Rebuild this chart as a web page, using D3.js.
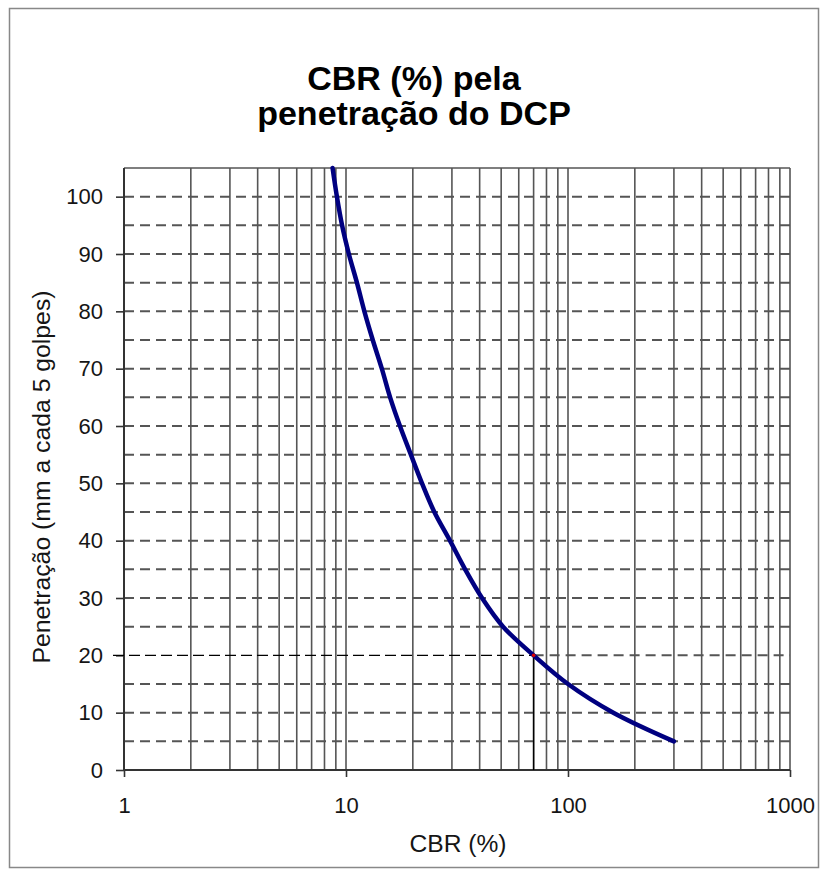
<!DOCTYPE html>
<html><head><meta charset="utf-8">
<script src="https://cdn.jsdelivr.net/npm/d3@7"></script>
<style>body{margin:0;background:#fff}svg{display:block}</style>
</head><body>
<svg id="c" width="821" height="871"></svg>
<script>
const titleLines = ["CBR (%) pela", "penetração do DCP"];
const xTitle = "CBR (%)";
const yTitle = "Penetração (mm a cada 5 golpes)";
const penetration = [105,100,95,90,85,80,75,70,65,60,55,50,45,40,35,30,25,20,15,10,5];
const cbr = [8.7,9.1,9.6,10.3,11.2,12.1,13.2,14.5,15.8,17.5,19.6,22.0,25.0,29.4,34.4,41,51,70,100,160,300];
const xTicks = [1,10,100,1000];
const yTicks = [0,10,20,30,40,50,60,70,80,90,100];
const yGrid = [5,10,15,20,25,30,35,40,45,50,55,60,65,70,75,80,85,90,95,100];
const refCbr = 70, refPen = 20;

const FONT = "Liberation Sans, Arial, sans-serif";
const svg = d3.select("#c");
const x = d3.scaleLog().domain([1,1000]).range([124,790]);
const y = d3.scaleLinear().domain([0,105]).range([770,168]);

// outer frame
svg.append("rect").attr("x",9.5).attr("y",8.5).attr("width",809).attr("height",859)
  .attr("fill","none").attr("stroke","#888").attr("stroke-width",1.5);

// title
svg.append("g").selectAll("text").data(titleLines).join("text")
  .attr("x",414).attr("y",(d,i)=>90+i*35).attr("text-anchor","middle")
  .attr("font-family",FONT).attr("font-weight","bold")
  .attr("font-size",34).attr("fill","#000").text(d=>d);

// vertical grid (log minor)
const vg = [];
for (let dec of [1,10,100]) for (let k=2;k<=9;k++) vg.push(dec*k);
vg.push(10,100,1000);
svg.append("g").selectAll("line").data(vg).join("line")
  .attr("x1",d=>x(d)).attr("x2",d=>x(d)).attr("y1",y(105)).attr("y2",y(0))
  .attr("stroke","#555").attr("stroke-width",1.6);

// horizontal dashed grid (the reference level starts at the annotation)
svg.append("g").selectAll("line").data(yGrid).join("line")
  .attr("x1",d=>d===refPen ? x(refCbr) : x(1)).attr("x2",x(1000))
  .attr("y1",d=>y(d)).attr("y2",d=>y(d))
  .attr("stroke","#555").attr("stroke-width",2).attr("stroke-dasharray","10,6");

// top border
svg.append("line").attr("x1",x(1)).attr("x2",x(1000)).attr("y1",y(105)).attr("y2",y(105))
  .attr("stroke","#555").attr("stroke-width",1.6);

// axes
const xAxis = d3.axisBottom(x).tickValues(xTicks).tickFormat(d3.format("d")).tickSize(7).tickPadding(20);
const gx = svg.append("g").attr("transform",`translate(0,${y(0)})`).call(xAxis);
const yAxis = d3.axisLeft(y).tickValues(yTicks).tickSize(8).tickPadding(13);
const gy = svg.append("g").attr("transform",`translate(${x(1)},0)`).call(yAxis);
[gx,gy].forEach(g=>{
  g.attr("font-size",null).attr("font-family",null);
  g.select(".domain").attr("stroke","#333").attr("stroke-width",2);
  g.selectAll(".tick line").attr("stroke","#333").attr("stroke-width",1.6);
  g.selectAll(".tick text").attr("font-family",FONT)
   .attr("font-size",22).attr("fill","#151515");
});
gy.select(".domain").attr("d",`M0,${y(105)}V${y(0)}`);
gx.select(".domain").attr("d",`M${x(1)},0H${x(1000)}`);

// reference annotation
svg.append("line").attr("x1",x(1)-11).attr("x2",x(refCbr)).attr("y1",y(refPen)).attr("y2",y(refPen))
  .attr("stroke","#000").attr("stroke-width",1.4).attr("stroke-dasharray","11,5");
svg.append("line").attr("x1",x(refCbr)).attr("x2",x(refCbr)).attr("y1",y(refPen)).attr("y2",y(0))
  .attr("stroke","#000").attr("stroke-width",1.4);

// curve
const pts = penetration.map((p,i)=>[cbr[i],p]);
svg.append("path").datum(pts)
  .attr("d",d3.line().x(d=>x(d[0])).y(d=>y(d[1])).curve(d3.curveCatmullRom))
  .attr("fill","none").attr("stroke","#000080").attr("stroke-width",4.5).attr("stroke-linecap","round");
svg.append("circle").attr("cx",x(refCbr)).attr("cy",y(refPen)).attr("r",1.8).attr("fill","#d00");

// axis titles
svg.append("text").attr("x",458).attr("y",852).attr("text-anchor","middle")
  .attr("font-family",FONT).attr("font-size",23).attr("fill","#151515")
  .attr("textLength",97).attr("lengthAdjust","spacingAndGlyphs").text(xTitle);
svg.append("text").attr("transform","translate(50,477) rotate(-90)").attr("text-anchor","middle")
  .attr("font-family",FONT).attr("font-size",23).attr("fill","#151515")
  .attr("textLength",373).attr("lengthAdjust","spacingAndGlyphs").text(yTitle);
</script>
</body></html>
